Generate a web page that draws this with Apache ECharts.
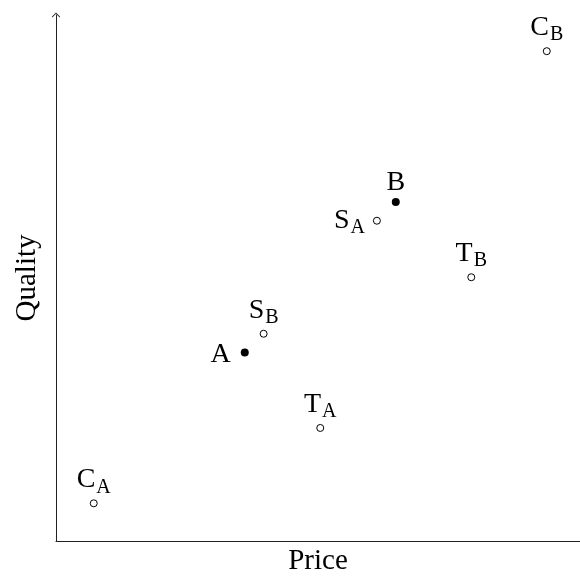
<!DOCTYPE html>
<html>
<head>
<meta charset="utf-8">
<script src="https://cdn.jsdelivr.net/npm/echarts@6/dist/echarts.min.js"></script>
<style>
html,body{margin:0;padding:0;background:#fff;}
#chart{width:580px;height:581px;}
</style>
</head>
<body>
<div id="chart"></div>
<script>
// ---- data ----
const mainLetters   = ['C', 'T', 'A', 'S', 'S', 'B', 'T', 'C'];
const subLetters    = ['A', 'A', '',  'B', 'A', '',  'B', 'B'];
const priceValues   = [0.5, 3.5, 2.5, 2.75, 4.25, 4.5, 5.5, 6.5];
const qualityValues = [0.5, 1.5, 2.5, 2.75, 4.25, 4.5, 3.5, 6.5];
const filledPoints  = ['A', 'B'];
const xAxisTitle = 'Price';
const yAxisTitle = 'Quality';

// ---- styling (label placement per point) ----
const FONT = 'Liberation Serif';
const labelPlacement = {
  C_A: {position: 'top', distance: 4.5},
  T_A: {position: 'top', distance: 4.5},
  A:   {position: 'left', distance: 10, offset: [0, 2]},
  S_B: {position: 'top', distance: 4.5},
  S_A: {position: 'left', distance: 8, offset: [0, -0.5]},
  B:   {position: 'top', distance: 0.5},
  T_B: {position: 'top', distance: 4.5},
  C_B: {position: 'top', distance: 4.5}
};

const data = priceValues.map(function (x, i) {
  const key = subLetters[i] ? mainLetters[i] + '_' + subLetters[i] : mainLetters[i];
  const filled = filledPoints.indexOf(key) >= 0;
  return {
    value: [x, qualityValues[i]],
    symbolSize: filled ? 8 : 7,
    itemStyle: filled
      ? {color: '#000', borderColor: '#000', borderWidth: 0, opacity: 1}
      : {color: '#fff', borderColor: '#000', borderWidth: 1, opacity: 1},
    label: labelPlacement[key]
  };
});

const chart = echarts.init(document.getElementById('chart'), null, {renderer: 'canvas'});
chart.setOption({
  animation: false,
  backgroundColor: '#fff',
  grid: {left: 56, right: 0, top: 15, bottom: 39, containLabel: false},
  xAxis: {
    type: 'value', min: 0, max: 6.94,
    splitLine: {show: false}, axisTick: {show: false}, axisLabel: {show: false},
    axisLine: {show: true, lineStyle: {color: '#222', width: 1}},
    name: xAxisTitle, nameLocation: 'middle', nameGap: 6,
    nameTextStyle: {fontFamily: FONT, fontSize: 29, color: '#000', verticalAlign: 'top'}
  },
  yAxis: {
    type: 'value', min: 0, max: 6.98,
    splitLine: {show: false}, axisTick: {show: false}, axisLabel: {show: false},
    axisLine: {
      show: true,
      lineStyle: {color: '#222', width: 1},
      symbol: ['none', 'path://M50,0 L100,52 L94,60 L50,14 L6,60 L0,52 Z'],
      symbolSize: [9, 5]
    },
    name: yAxisTitle, nameLocation: 'middle', nameGap: 14, nameRotate: 90,
    nameTextStyle: {fontFamily: FONT, fontSize: 29, color: '#000'}
  },
  series: [{
    type: 'scatter',
    symbol: 'circle',
    itemStyle: {opacity: 1},
    data: data,
    label: {
      show: true,
      opacity: 1,
      formatter: function (p) {
        const i = p.dataIndex;
        return subLetters[i]
          ? '{m|' + mainLetters[i] + '}{s|' + subLetters[i] + '}'
          : '{m|' + mainLetters[i] + '}';
      },
      rich: {
        m: {fontFamily: FONT, fontSize: 28, color: '#000', lineHeight: 30},
        s: {fontFamily: FONT, fontSize: 20, color: '#000', lineHeight: 30, padding: [15, 0, 0, 1]}
      }
    },
    emphasis: {disabled: true}
  }]
});
</script>
</body>
</html>
